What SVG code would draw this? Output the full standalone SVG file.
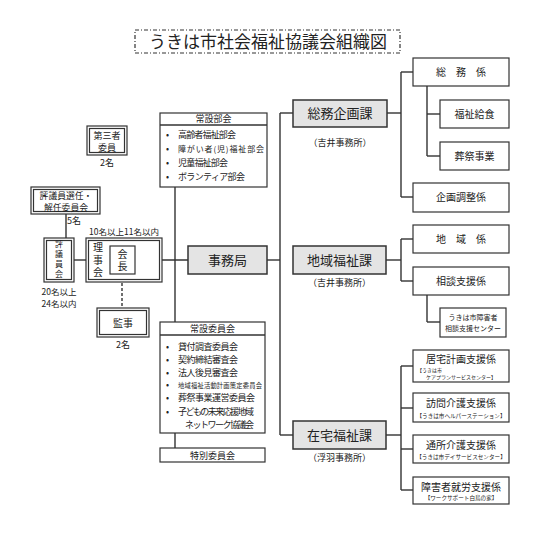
<svg xmlns="http://www.w3.org/2000/svg" width="540" height="540" viewBox="0 0 540 540">
<style>
text{font-family:"Noto Sans CJK JP","Noto Sans",sans-serif;fill:#222}
.b{fill:#fff;stroke:#333;stroke-width:1.2}
.g{fill:#e4e4e4;stroke:#333;stroke-width:1.5}
.l{stroke:#333;stroke-width:1.4;fill:none}
.c{text-anchor:middle}
.v{writing-mode:vertical-rl;text-anchor:middle}
.s9{font-size:9px}
.s10{font-size:10px}
</style>
<rect width="540" height="540" fill="#fff"/>
<g id="title">
<rect x="135" y="30" width="265" height="23" fill="none" stroke="#333" stroke-width="1.2" stroke-dasharray="4,2,1,2"/>
<text x="268" y="48" class="c" font-size="17">うきは市社会福祉協議会組織図</text>
</g>
<g id="connectors">
<line class="l" x1="66" y1="214" x2="66" y2="238"/>
<line class="l" x1="74" y1="260" x2="86" y2="260"/>
<line class="l" x1="135" y1="260" x2="188" y2="260"/>
<line class="l" x1="122" y1="283" x2="122" y2="308" stroke-dasharray="3,2"/>
<line class="l" x1="175" y1="187" x2="175" y2="322"/>
<line class="l" x1="175" y1="433" x2="175" y2="448"/>
<line class="l" x1="267" y1="260" x2="280" y2="260"/>
<line class="l" x1="280" y1="113" x2="280" y2="435"/>
<line class="l" x1="280" y1="113" x2="293" y2="113"/>
<line class="l" x1="280" y1="435" x2="293" y2="435"/>
<line class="l" x1="387" y1="113" x2="401" y2="113"/>
<line class="l" x1="401" y1="72" x2="401" y2="197"/>
<line class="l" x1="401" y1="72" x2="413" y2="72"/>
<line class="l" x1="401" y1="197" x2="413" y2="197"/>
<line class="l" x1="427" y1="86" x2="427" y2="156"/>
<line class="l" x1="427" y1="114" x2="440" y2="114"/>
<line class="l" x1="427" y1="156" x2="440" y2="156"/>
<line class="l" x1="386" y1="260" x2="401" y2="260"/>
<line class="l" x1="401" y1="239" x2="401" y2="281"/>
<line class="l" x1="401" y1="239" x2="413" y2="239"/>
<line class="l" x1="401" y1="281" x2="413" y2="281"/>
<line class="l" x1="427" y1="295" x2="427" y2="322"/>
<line class="l" x1="427" y1="322" x2="440" y2="322"/>
<line class="l" x1="386" y1="435" x2="401" y2="435"/>
<line class="l" x1="401" y1="366" x2="401" y2="490"/>
<line class="l" x1="401" y1="366" x2="413" y2="366"/>
<line class="l" x1="401" y1="408" x2="413" y2="408"/>
<line class="l" x1="401" y1="449" x2="413" y2="449"/>
<line class="l" x1="401" y1="490" x2="413" y2="490"/>
</g>
<g id="daisansha">
<rect class="b" x="87" y="126" width="40" height="29"/>
<rect class="b" x="89.5" y="128.5" width="35" height="24"/>
<text x="107" y="139" class="c" font-size="9">第三者</text>
<text x="107" y="151" class="c" font-size="9">委員</text>
<text x="107" y="166" class="c s9">2名</text>
</g>
<g id="senin">
<rect class="b" x="31" y="187" width="69" height="27"/>
<rect class="b" x="33.5" y="189.5" width="64" height="22"/>
<text x="66" y="198.5" class="c" font-size="8.8">評議員選任・</text>
<text x="66" y="210.5" class="c" font-size="8.8">解任委員会</text>
<text x="74" y="224" class="c s9">5名</text>
</g>
<g id="hyogiinkai">
<rect class="b" x="44" y="238" width="30" height="44"/>
<rect class="b" x="46.5" y="240.5" width="25" height="39"/>
<text x="59" y="260" class="v" font-size="8" letter-spacing="2">評議員会</text>
<text x="59" y="295" class="c" font-size="8.5">20名以上</text>
<text x="59" y="307" class="c" font-size="8.5">24名以内</text>
</g>
<g id="rijikai">
<text x="124" y="235" class="c" font-size="8.5">10名以上11名以内</text>
<rect class="b" x="86" y="238" width="76" height="44"/>
<rect class="b" x="88.5" y="240.5" width="71" height="39"/>
<text x="98" y="261" class="v" font-size="10" letter-spacing="2.5">理事会</text>
<rect class="b" x="110" y="246" width="25" height="28"/>
<text x="122.5" y="261" class="v" font-size="10" letter-spacing="2">会長</text>
</g>
<g id="kanji">
<rect class="b" x="97" y="308" width="52" height="29"/>
<rect class="b" x="99.5" y="310.5" width="47" height="24"/>
<text x="123" y="327" class="c s10">監事</text>
<text x="123" y="348" class="c s9">2名</text>
</g>
<g id="jimukyoku">
<rect class="g" x="188" y="246" width="79" height="28"/>
<text x="227.5" y="265" class="c" font-size="13">事務局</text>
</g>
<g id="josetsubukai">
<rect class="b" x="160" y="113" width="107" height="74"/>
<line class="l" x1="160" y1="125" x2="267" y2="125" stroke-width="1.2"/>
<text x="213.5" y="122" class="c" font-size="9">常設部会</text>
<g font-size="9">
<text x="166" y="138">•</text><text x="178" y="138" textLength="58">高齢者福祉部会</text>
<text x="166" y="152">•</text><text x="178" y="152" font-size="8" textLength="86">障がい者(児)福祉部会</text>
<text x="166" y="166">•</text><text x="178" y="166" textLength="50">児童福祉部会</text>
<text x="166" y="180">•</text><text x="178" y="180" textLength="67">ボランティア部会</text>
</g>
</g>
<g id="josetsuiinkai">
<rect class="b" x="160" y="322" width="105" height="111"/>
<line class="l" x1="160" y1="335" x2="265" y2="335" stroke-width="1.2"/>
<text x="212.5" y="332" class="c" font-size="9">常設委員会</text>
<g font-size="9">
<text x="166" y="350">•</text><text x="178" y="350" textLength="60">貸付調査委員会</text>
<text x="166" y="363">•</text><text x="178" y="363" textLength="60">契約締結審査会</text>
<text x="166" y="376">•</text><text x="178" y="376" textLength="60">法人後見審査会</text>
<text x="166" y="388">•</text><text x="178" y="388" font-size="6.3" textLength="84">地域福祉活動計画策定委員会</text>
<text x="166" y="401">•</text><text x="178" y="401" textLength="77">葬祭事業運営委員会</text>
<text x="166" y="415">•</text><text x="178" y="415" textLength="76">子どもの未来応援地域</text>
<text x="185" y="428" textLength="69">ネットワーク協議会</text>
</g>
</g>
<g id="tokubetsu">
<rect class="b" x="160" y="448" width="105" height="14"/>
<text x="212.5" y="459" class="c" font-size="9">特別委員会</text>
</g>
<g id="somukikaku">
<rect class="g" x="293" y="100" width="94" height="27"/>
<text x="340" y="118" class="c" font-size="13">総務企画課</text>
<text x="340" y="146" class="c s9">（吉井事務所）</text>
</g>
<g id="chiikifukushi">
<rect class="g" x="293" y="246" width="93" height="28"/>
<text x="339.5" y="265" class="c" font-size="13">地域福祉課</text>
<text x="339.5" y="286" class="c s9">（吉井事務所）</text>
</g>
<g id="zaitakufukushi">
<rect class="g" x="293" y="421" width="93" height="28"/>
<text x="339.5" y="440" class="c" font-size="13">在宅福祉課</text>
<text x="339.5" y="461" class="c s9">（浮羽事務所）</text>
</g>
<g id="somu"><rect class="b" x="413" y="58" width="96" height="28"/><text x="461" y="76" class="c s10">総　務　係</text></g>
<g id="kyushoku"><rect class="b" x="440" y="100" width="69" height="28"/><text x="474.5" y="118" class="c s10">福祉給食</text></g>
<g id="sosai"><rect class="b" x="440" y="142" width="69" height="28"/><text x="474.5" y="160" class="c s10">葬祭事業</text></g>
<g id="kikakuchosei"><rect class="b" x="413" y="183" width="96" height="29"/><text x="461" y="201" class="c s10">企画調整係</text></g>
<g id="chiiki"><rect class="b" x="413" y="225" width="96" height="28"/><text x="461" y="243" class="c s10">地　域　係</text></g>
<g id="sodanshien"><rect class="b" x="413" y="267" width="96" height="28"/><text x="461" y="285" class="c s10">相談支援係</text></g>
<g id="sodancenter"><rect class="b" x="440" y="308" width="66" height="29"/>
<text x="473" y="320" class="c" font-size="7">うきは市障害者</text>
<text x="473" y="331" class="c" font-size="7">相談支援センター</text></g>
<g id="kyotaku"><rect class="b" x="413" y="350" width="96" height="32"/>
<text x="461" y="363" class="c" font-size="10">居宅計画支援係</text>
<text x="417" y="372" font-size="5">【うきは市</text>
<text x="461" y="379" class="c" font-size="5">ケアプランサービスセンター】</text></g>
<g id="homon"><rect class="b" x="413" y="393" width="96" height="29"/>
<text x="461" y="407" class="c" font-size="10">訪問介護支援係</text>
<text x="461" y="418" class="c" font-size="5.6">【うきは市ヘルパーステーション】</text></g>
<g id="tsusho"><rect class="b" x="413" y="435" width="96" height="28"/>
<text x="461" y="449" class="c" font-size="10">通所介護支援係</text>
<text x="461" y="459" class="c" font-size="5.6">【うきは市デイサービスセンター】</text></g>
<g id="shuro"><rect class="b" x="413" y="477" width="96" height="27"/>
<text x="461" y="491" class="c" font-size="10">障害者就労支援係</text>
<text x="461" y="500" class="c" font-size="5.6">【ワークサポート白鳥の家】</text></g>
</svg>
